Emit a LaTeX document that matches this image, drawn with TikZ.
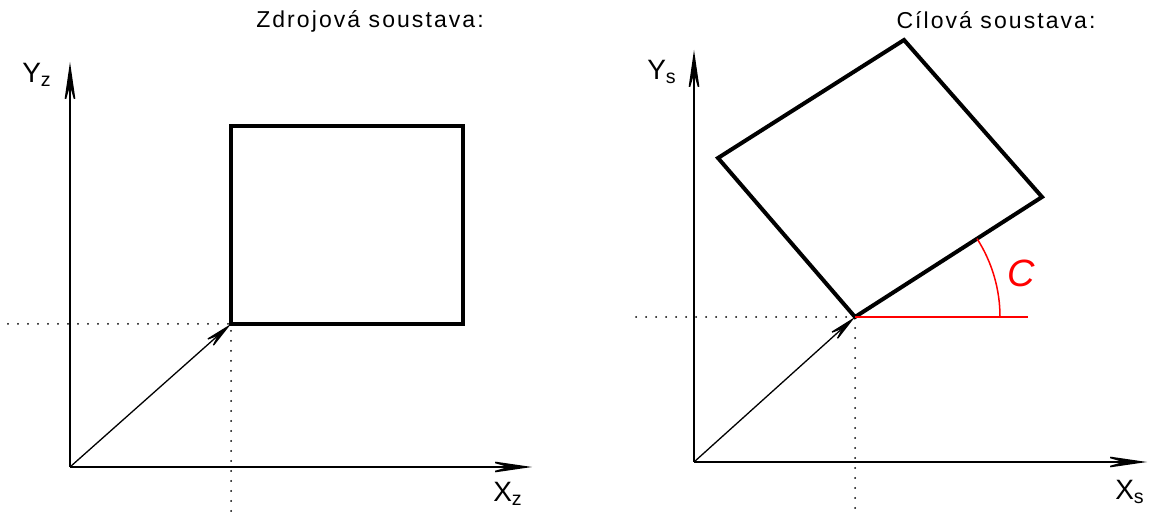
\documentclass[tikz,border=0pt]{standalone}
\usepackage{fontspec}
\setmainfont{Liberation Sans}
\newfontfamily\titlefont[LetterSpace=9]{Liberation Sans}
\usetikzlibrary{arrows.meta}

\begin{document}
\begin{tikzpicture}[x=0.5pt, y=0.5pt,
  axis/.style={line width=0.8pt, -{Stealth[length=24pt, width=7pt, inset=12pt]}},
  shift vec/.style={line width=0.65pt, -{Stealth[length=17pt, width=6pt, inset=8pt]}},
  frame/.style={line width=2pt, line join=miter},
  guide/.style={line width=1pt, line cap=round, dash pattern=on 0pt off 5pt},
  axlabel/.style={font=\fontsize{14}{16}\selectfont, inner sep=0pt},
  title/.style={font=\titlefont\fontsize{11.5}{13}\selectfont, inner sep=0pt}]
  \useasboundingbox (0,0) rectangle (1149,518);
  % --- Zdrojova soustava (left) ---
  \coordinate (oz) at (70,51);
  \coordinate (yz) at (70,456);
  \coordinate (xz) at (532,51);
  \coordinate (pz) at (231,194);
  \coordinate (qz) at (463,392);
  \coordinate (hz) at (8,194);
  \coordinate (vz) at (231,3);
  \draw[axis] (oz) -- (yz);
  \draw[axis] (oz) -- (xz);
  \draw[guide] (hz) -- (pz) -- (vz);
  \draw[shift vec] (oz) -- (pz);
  \draw[frame] (pz) rectangle (qz);
  \node[axlabel] (lyz) at (37,443) {Y\textsubscript{z}};
  \node[axlabel] (lxz) at (508,24) {X\textsubscript{z}};
  \node[title] (tz) at (370,497) {Zdrojová soustava:};
  % --- Cilova soustava (right) ---
  \coordinate (os) at (694,56);
  \coordinate (ys) at (694,468);
  \coordinate (xs) at (1147,56);
  \coordinate (ps) at (855,201);
  \coordinate (qs) at (1042,321);
  \coordinate (rs) at (904,478);
  \coordinate (ss) at (718,360);
  \coordinate (hs) at (636,201);
  \coordinate (vs) at (855,3);
  \coordinate (cs) at (1028,201);
  \draw[axis] (os) -- (ys);
  \draw[axis] (os) -- (xs);
  \draw[guide] (hs) -- (ps) -- (vs);
  \draw[shift vec] (os) -- (ps);
  \draw[frame] (ps) -- (qs) -- (rs) -- (ss) -- cycle;
  % rotation angle
  \draw[red, line width=0.75pt] (ps) -- (cs);
  \draw[red, line width=0.75pt] (ps) ++(72.5pt,0) arc[start angle=0, end angle=32.7, radius=72.5pt];
  \node[red, font=\fontsize{19}{21}\selectfont\itshape, inner sep=0pt] (lc) at (1021,245) {C};
  \node[axlabel] (lys) at (662,446) {Y\textsubscript{s}};
  \node[axlabel] (lxs) at (1130,26) {X\textsubscript{s}};
  \node[title] (ts) at (996,498) {Cílová soustava:};
\end{tikzpicture}
\end{document}
